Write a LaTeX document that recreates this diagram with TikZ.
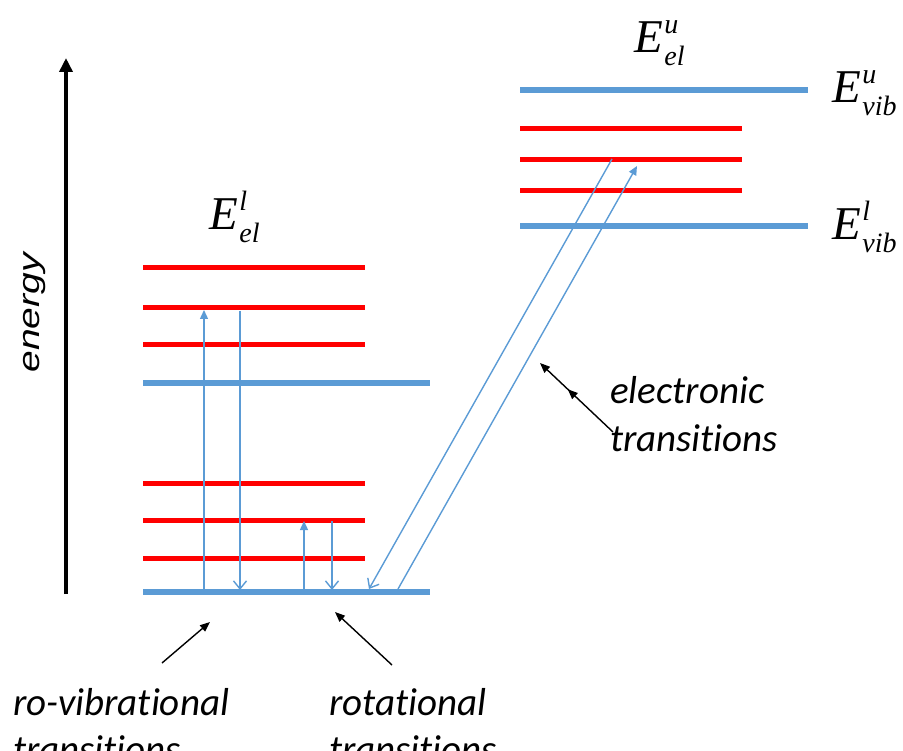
\documentclass[tikz,border=0pt]{standalone}
\usepackage{fontspec}
\setmainfont{Carlito}[Ligatures={NoCommon}]
\newfontfamily\arialf{Liberation Sans}
\newfontfamily\timesf{Liberation Serif}
\usetikzlibrary{arrows.meta,decorations.markings}
\definecolor{lvlblue}{RGB}{91,155,213}
\definecolor{lvlred}{RGB}{255,0,0}
\tikzset{
  bluelvl/.style={draw=lvlblue,line width=6pt},
  redlvl/.style={draw=lvlred,line width=5pt},
  upar/.style={draw=lvlblue,line width=1.4pt,-{Triangle[width=8pt,length=9pt]}},
  downar/.style={draw=lvlblue,line width=1.4pt,-{Straight Barb[width=13pt,length=8pt,line width=1.4pt]}},
  annot/.style={draw=black,line width=1.4pt,-{Triangle[width=8pt,length=10pt]}},
  lbl/.style={font=\fontsize{39}{47}\selectfont\itshape,inner sep=0pt,anchor=base west},
  elbl/.style={inner sep=0pt,anchor=base west}
}
\newcommand\Elab[2]{{\timesf\itshape\fontsize{47}{47}\selectfont E\kern1.5pt\makebox[0pt][l]{\raisebox{19pt}{\fontsize{28}{28}\selectfont #1}}\raisebox{-13pt}{\fontsize{28}{28}\selectfont #2}}}
\begin{document}
\begin{tikzpicture}[x=1pt,y=-1pt]
\useasboundingbox (0,0) rectangle (903,751);
% energy axis
\coordinate (ebot) at (66,594);
\coordinate (etop) at (66,58);
\draw[line width=3.5pt,-{Triangle[width=13pt,length=14pt]}] (ebot) -- (etop);
\node[font=\fontsize{30}{36}\selectfont\arialf\itshape,rotate=90,inner sep=0pt] (energy) at (35,313) {\scalebox{1.3}[1]{energy}};
% lower electronic state
\draw[bluelvl] (143,592) -- (430,592);
\draw[redlvl] (143,558) -- (365,558);
\draw[redlvl] (143,520) -- (365,520);
\draw[redlvl] (143,483) -- (365,483);
\draw[bluelvl] (143,383) -- (430,383);
\draw[redlvl] (143,345) -- (365,345);
\draw[redlvl] (143,308) -- (365,308);
\draw[redlvl] (143,268) -- (365,268);
\node[elbl] (Ell) at (209,230) {\Elab{l}{el}};
% upper electronic state
\draw[bluelvl] (520,90) -- (808,90);
\draw[redlvl] (520,129) -- (742,129);
\draw[redlvl] (520,160) -- (742,160);
\draw[redlvl] (520,191) -- (742,191);
\draw[bluelvl] (520,226) -- (808,226);
\node[elbl] (Elu) at (634,53) {\Elab{u}{el}};
\node[elbl] (Evu) at (832,103) {\Elab{u}{vib}};
\node[elbl] (Evl) at (832,240) {\Elab{l}{vib}};
% transition end points
\coordinate (rv1a) at (204,589);
\coordinate (rv1b) at (204,310);
\coordinate (rv2a) at (240,311);
\coordinate (rv2b) at (240,590);
\coordinate (r1a) at (304,589);
\coordinate (r1b) at (304,521);
\coordinate (r2a) at (332,521);
\coordinate (r2b) at (332,590);
\coordinate (el1a) at (612,159);
\coordinate (el1b) at (369,589);
\coordinate (el2a) at (398,589);
\coordinate (el2b) at (637,166);
\draw[upar] (rv1a) -- (rv1b);
\draw[downar] (rv2a) -- (rv2b);
\draw[upar] (r1a) -- (r1b);
\draw[downar] (r2a) -- (r2b);
\draw[downar] (el1a) -- (el1b);
\draw[upar] (el2a) -- (el2b);
% labels
\node[lbl] (elec1) at (610,404) {electronic};
\node[lbl] (elec2) at (610,451) {transitions};
\node[lbl] (rovib1) at (13,715) {ro-vibrational};
\node[lbl] (rovib2) at (13,762) {transitions};
\node[lbl] (rot1) at (329,715) {rotational};
\node[lbl] (rot2) at (329,762) {transitions};
% annotation arrows
\coordinate (eltail) at (613,432);
\coordinate (eltip) at (540,363);
\coordinate (rvtail) at (162,663);
\coordinate (rvtip) at (210,622);
\coordinate (rttail) at (392,665);
\coordinate (rttip) at (335,612);
\draw[annot,postaction={decorate},decoration={markings,mark=at position 0.62 with {\arrow{Triangle[width=8pt,length=10pt]}}}] (eltail) -- (eltip);
\draw[annot] (rvtail) -- (rvtip);
\draw[annot] (rttail) -- (rttip);
\end{tikzpicture}
\end{document}
